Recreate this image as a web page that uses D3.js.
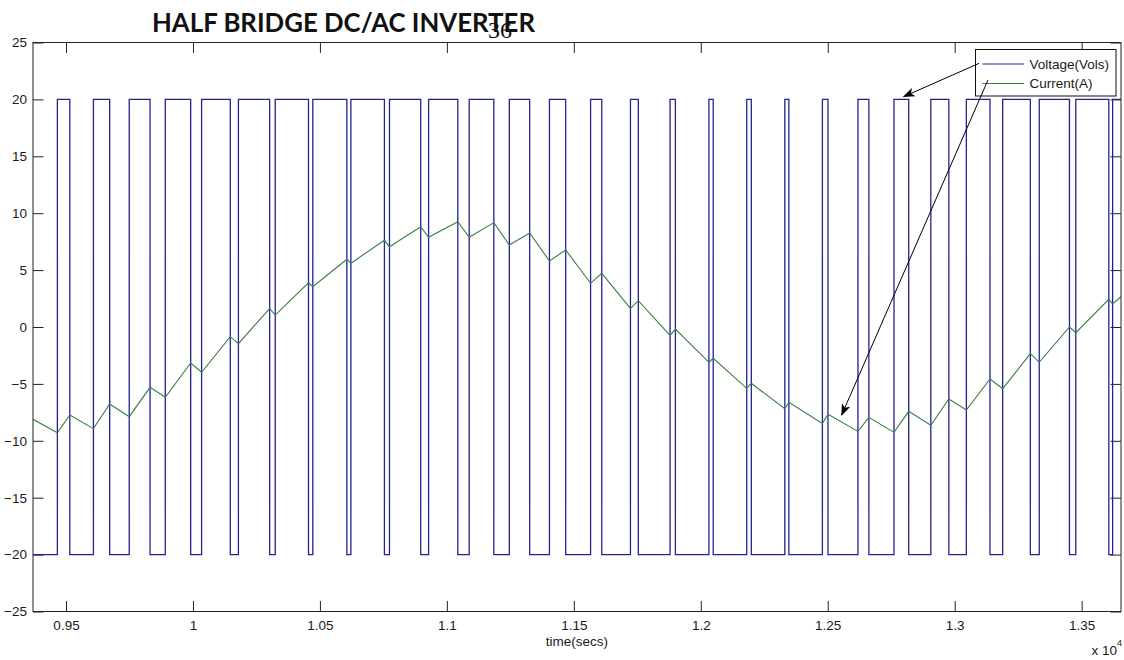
<!DOCTYPE html>
<html>
<head>
<meta charset="utf-8">
<script src="https://cdn.jsdelivr.net/npm/d3@7"></script>
<style>
    body { margin: 0; background: #fff; }
    .tick text { font-family: "Liberation Sans", Arial, sans-serif; font-size: 13.5px; fill: #1a1a1a; }
    .tick line { stroke: #222; }
    .lbl { font-family: "Liberation Sans", Arial, sans-serif; fill: #1a1a1a; }
</style>
</head>
<body>
<div id="chart"></div>
<script>
// time range of the plot (secs)
var timeRange = [9370, 13655];

// PWM voltage: instants where the output switches to +20 V and back to -20 V
var pulseOn = [9466, 9608, 9749, 9891, 10034, 10179, 10324, 10472, 10622, 10774,
               10928, 11088, 11246, 11404, 11566, 11723, 11879, 12032, 12181, 12331,
               12479, 12619, 12761, 12906, 13046, 13189, 13333, 13477, 13622];
var pulseOff = [9515, 9672, 9831, 9991, 10147, 10302, 10455, 10606, 10754, 10897,
                11043, 11185, 11326, 11468, 11610, 11754, 11900, 12049, 12199, 12347,
                12501, 12662, 12819, 12977, 13139, 13298, 13452, 13607];
var voltageLevels = [-20, 20];

// load current: vertices of the ripple (secs, A)
var currentTime = [9370, 9466, 9515, 9608, 9672, 9749, 9831, 9891, 9991, 10034,
                   10147, 10179, 10302, 10324, 10455, 10472, 10606, 10622, 10754, 10774,
                   10897, 10928, 11043, 11088, 11185, 11246, 11326, 11404, 11468, 11566,
                   11610, 11723, 11754, 11879, 11900, 12032, 12049, 12181, 12199, 12331,
                   12347, 12479, 12501, 12619, 12662, 12761, 12819, 12906, 12977, 13046,
                   13139, 13189, 13298, 13333, 13452, 13477, 13607, 13622, 13655];
var currentAmp = [-8.11, -9.29, -7.73, -8.93, -6.77, -7.88, -5.30, -6.18, -3.16, -3.98,
                  -0.85, -1.46, 1.61, 1.05, 3.89, 3.54, 5.95, 5.60, 7.62, 7.06,
                  8.81, 7.88, 9.25, 7.88, 9.17, 7.21, 8.26, 5.80, 6.77, 3.84,
                  4.72, 1.64, 2.31, -0.73, -0.18, -3.10, -2.75, -5.39, -4.95, -7.18,
                  -6.62, -8.47, -7.67, -9.17, -7.94, -9.26, -7.41, -8.64, -6.33, -7.29,
                  -4.57, -5.42, -2.34, -3.10, 0.00, -0.50, 2.43, 2.02, 2.66];

// axis ticks
var xTicks = [9500, 10000, 10500, 11000, 11500, 12000, 12500, 13000, 13500];
var yTicks = [-25, -20, -15, -10, -5, 0, 5, 10, 15, 20, 25];
var yRange = [-25, 25];

var legendLabels = ["Voltage(Vols)", "Current(A)"];

// annotation arrows: tail and head in data coords (secs, value)
var arrowTail = [[13096, 23.17], [13131, 21.70]];
var arrowHead = [[12799, 20.24], [12555, -7.73]];

var colors = {voltage: "#23238f", current: "#3a7d40"};

const W = 1124, H = 660;
const plot = {left: 33, right: 1121, top: 42.5, bottom: 611.5};

var svg = d3.select("#chart")
    .append("svg")
    .attr("width", W)
    .attr("height", H);

// ---------------------------//
//       SCALES               //
// ---------------------------//
var x = d3.scaleLinear()
    .domain(timeRange)
    .range([plot.left, plot.right]);

var y = d3.scaleLinear()
    .domain(yRange)
    .range([plot.bottom, plot.top]);

// ---------------------------//
//       AXES (matlab box)    //
// ---------------------------//
var tickLen = 10.5;

svg.append("g")
    .attr("transform", "translate(0," + plot.bottom + ")")
    .call(d3.axisBottom(x).tickValues(xTicks).tickSizeInner(-tickLen).tickSizeOuter(0).tickPadding(8.5)
        .tickFormat(function(d) { return d3.format("~g")(d / 1e4); }))
    .call(function(g) { g.select(".domain").remove(); });

svg.append("g")
    .attr("transform", "translate(0," + plot.top + ")")
    .call(d3.axisTop(x).tickValues(xTicks).tickSizeInner(-tickLen).tickSizeOuter(0).tickFormat(""))
    .call(function(g) { g.select(".domain").remove(); });

svg.append("g")
    .attr("transform", "translate(" + plot.left + ",0)")
    .call(d3.axisLeft(y).tickValues(yTicks).tickSizeInner(-tickLen).tickSizeOuter(0).tickPadding(6))
    .call(function(g) { g.select(".domain").remove(); });

svg.append("g")
    .attr("transform", "translate(" + plot.right + ",0)")
    .call(d3.axisRight(y).tickValues(yTicks).tickSizeInner(-tickLen).tickSizeOuter(0).tickFormat(""))
    .call(function(g) { g.select(".domain").remove(); });

// clip for the traces
svg.append("clipPath")
    .attr("id", "clip")
    .append("rect")
    .attr("x", plot.left)
    .attr("y", plot.top)
    .attr("width", plot.right - plot.left)
    .attr("height", plot.bottom - plot.top);

// ---------------------------//
//       VOLTAGE              //
// ---------------------------//
var vPoints = [[timeRange[0], voltageLevels[0]]];
pulseOn.forEach(function(t, i) {
    vPoints.push([t, voltageLevels[1]]);
    if (i < pulseOff.length) vPoints.push([pulseOff[i], voltageLevels[0]]);
});
vPoints.push([timeRange[1], vPoints[vPoints.length - 1][1]]);

svg.append("path")
    .datum(vPoints)
    .attr("clip-path", "url(#clip)")
    .attr("fill", "none")
    .attr("stroke", colors.voltage)
    .attr("stroke-width", 1.3)
    .attr("d", d3.line()
        .curve(d3.curveStepAfter)
        .x(function(d) { return x(d[0]); })
        .y(function(d) { return y(d[1]); }));

// ---------------------------//
//       CURRENT              //
// ---------------------------//
svg.append("path")
    .datum(d3.zip(currentTime, currentAmp))
    .attr("clip-path", "url(#clip)")
    .attr("fill", "none")
    .attr("stroke", colors.current)
    .attr("stroke-width", 1.1)
    .attr("d", d3.line()
        .x(function(d) { return x(d[0]); })
        .y(function(d) { return y(d[1]); }));

// box
svg.append("rect")
    .attr("x", plot.left)
    .attr("y", plot.top)
    .attr("width", plot.right - plot.left)
    .attr("height", plot.bottom - plot.top)
    .attr("fill", "none")
    .attr("stroke", "#222")
    .attr("stroke-width", 1);

// ---------------------------//
//       LEGEND               //
// ---------------------------//
var lg = svg.append("g").attr("transform", "translate(975.5,49.5)");
lg.append("rect")
    .attr("width", 140.5)
    .attr("height", 46.5)
    .attr("fill", "#fff")
    .attr("stroke", "#111")
    .attr("stroke-width", 1);

var legendColors = [colors.voltage, colors.current];
lg.selectAll(".lg-line")
    .data(legendLabels)
    .enter()
    .append("line")
    .attr("x1", 7)
    .attr("x2", 48.5)
    .attr("y1", function(d, i) { return 14.5 + i * 19.5; })
    .attr("y2", function(d, i) { return 14.5 + i * 19.5; })
    .attr("stroke", function(d, i) { return legendColors[i]; })
    .attr("stroke-width", 1.2);

lg.selectAll(".lg-text")
    .data(legendLabels)
    .enter()
    .append("text")
    .attr("class", "lbl")
    .attr("x", 54)
    .attr("y", function(d, i) { return 19 + i * 19.5; })
    .style("font-size", "13.5px")
    .text(function(d) { return d; });

// ---------------------------//
//       ARROWS               //
// ---------------------------//
svg.append("defs").append("marker")
    .attr("id", "arrow")
    .attr("markerUnits", "userSpaceOnUse")
    .attr("viewBox", "0 -5 12 10")
    .attr("refX", 11)
    .attr("refY", 0)
    .attr("markerWidth", 12)
    .attr("markerHeight", 10)
    .attr("orient", "auto")
    .append("path")
    .attr("d", "M0,-4.5L12,0L0,4.5L3,0Z")
    .attr("fill", "#000");

svg.selectAll(".arrow")
    .data(d3.zip(arrowTail, arrowHead))
    .enter()
    .append("line")
    .attr("x1", function(d) { return x(d[0][0]); })
    .attr("y1", function(d) { return y(d[0][1]); })
    .attr("x2", function(d) { return x(d[1][0]); })
    .attr("y2", function(d) { return y(d[1][1]); })
    .attr("stroke", "#000")
    .attr("stroke-width", 1)
    .attr("marker-end", "url(#arrow)");

// ---------------------------//
//       TEXTS                //
// ---------------------------//
svg.append("text")
    .attr("class", "lbl")
    .attr("x", (plot.left + plot.right) / 2)
    .attr("y", 646)
    .attr("text-anchor", "middle")
    .style("font-size", "13.5px")
    .text("time(secs)");

var mult = svg.append("text")
    .attr("class", "lbl")
    .attr("x", plot.right + 1)
    .attr("y", 655)
    .attr("text-anchor", "end")
    .style("font-size", "13.5px");
mult.append("tspan").text("x 10");
mult.append("tspan").attr("dy", -9).style("font-size", "9px").text("4");

svg.append("text")
    .attr("x", 152)
    .attr("y", 31.5)
    .attr("textLength", 383)
    .attr("lengthAdjust", "spacingAndGlyphs")
    .style("font-family", "Lato, 'Open Sans', sans-serif")
    .style("font-weight", "bold")
    .style("font-size", "26px")
    .style("fill", "#111")
    .text("HALF BRIDGE DC/AC INVERTER");

// page number printed over the title
svg.append("text")
    .attr("x", 488)
    .attr("y", 38)
    .style("font-family", "'Liberation Serif', serif")
    .style("font-size", "24px")
    .style("fill", "#111")
    .text("36");
</script>
</body>
</html>
